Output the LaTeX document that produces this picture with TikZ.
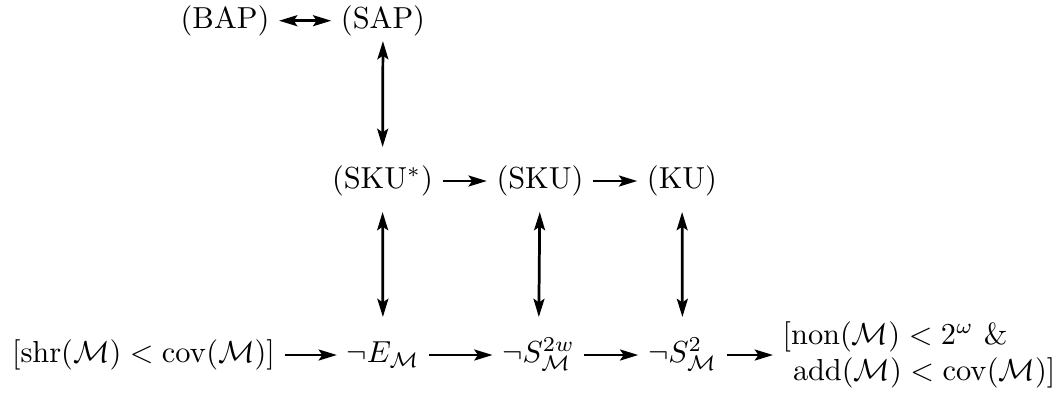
\documentclass[tikz,border=0pt]{standalone}
\usetikzlibrary{arrows.meta}
\begin{document}
\begin{tikzpicture}[x=0.329pt,y=-0.329pt,
  tip/.tip={Stealth[length=6pt,width=3.6pt,inset=1.2pt]},
  lbl/.style={inner sep=3pt,text height=7.5pt,text depth=2.5pt},
  arr/.style={line width=0.9pt,-tip},
  biarr/.style={line width=0.9pt,tip-tip},
  topv/.style={shorten <=-1.5pt,shorten >=3pt},
  lowv/.style={shorten <=2pt,shorten >=4.3pt}]
\useasboundingbox (0,0) rectangle (1063,395);
\node[lbl] (bap) at (225,20.7) {(BAP)};
\node[lbl] (sap) at (383,20.7) {(SAP)};
\node[lbl] (skus) at (382.5,181) {(SKU$^*$)};
\node[lbl] (sku) at (540,181) {(SKU)};
\node[lbl] (ku) at (682,181) {(KU)};
\node[lbl] (shr) at (143.5,355) {$[\mathrm{shr}(\mathcal{M})<\mathrm{cov}(\mathcal{M})]$};
\node[lbl] (em) at (383,355) {$\neg E_{\mathcal{M}}$};
\node[lbl] (s2w) at (538.5,355) {$\neg S^{2w}_{\mathcal{M}}$};
\node[lbl] (s2) at (682.5,355) {$\neg S^{2}_{\mathcal{M}}$};
\node[inner sep=3pt,align=left,anchor=west] (last) at (773,355)
  {$[\mathrm{non}(\mathcal{M})<2^\omega$ \&\\\ $\mathrm{add}(\mathcal{M})<\mathrm{cov}(\mathcal{M})]$};
\draw[biarr] (bap) -- (sap);
\draw[biarr,topv] (sap) -- (skus);
\draw[arr] (skus) -- (sku);
\draw[arr] (sku) -- (ku);
\draw[biarr,lowv] (skus) -- (em);
\draw[biarr,lowv] (sku) -- (s2w);
\draw[biarr,lowv] (ku) -- (s2);
\draw[arr] (shr) -- (em);
\draw[arr] (em) -- (s2w);
\draw[arr] (s2w) -- (s2);
\draw[arr] (s2) -- (last);
\end{tikzpicture}
\end{document}
